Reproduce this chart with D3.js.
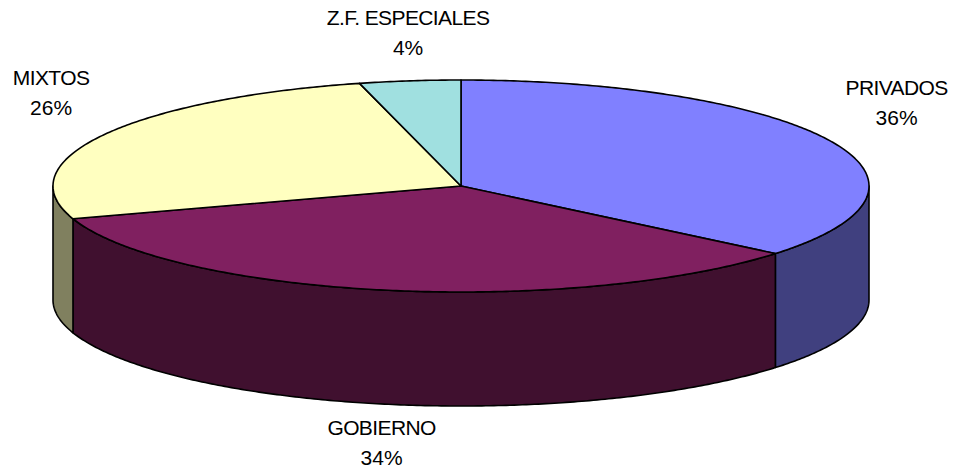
<!DOCTYPE html>
<html>
  <head>
    <meta charset="utf-8" />
    <title>Pie 3D</title>
    <script src="https://d3js.org/d3.v7.min.js"></script>
    <style>
      body { margin: 0; background: #fff; }
      text {
        font-family: 'Liberation Sans', Arial, sans-serif;
        font-size: 21px;
        fill: #000;
      }
      .name { letter-spacing: -0.6px; }
    </style>
  </head>
  <body>
    <div id="chart"></div>
    <script>
      // datos
      const categories = ['PRIVADOS', 'GOBIERNO', 'MIXTOS', 'Z.F. ESPECIALES'];
      const percents = [36, 34, 26, 4];
      const topColors = ['#8080FF', '#802060', '#FFFFC0', '#A0E0E0'];
      const sideColors = ['#40407F', '#40102F', '#80805F', '#507070'];

      const width = 956;
      const height = 472;

      // elipse del pastel
      const cx = 461, cy = 186, rx = 408, ry = 106, depth = 114;

      const svg = d3.select('#chart').append('svg')
        .attr('width', width)
        .attr('height', height);

      const pie = d3.pie().sort(null).value((d) => d.value);
      const arcs = pie(categories.map((c, i) => ({ name: c, value: percents[i], i })));

      const pt = (a, dy = 0) => [cx + rx * Math.sin(a), cy - ry * Math.cos(a) + dy];
      const sample = (a0, a1, dy = 0) => {
        const n = Math.max(2, Math.ceil(Math.abs(a1 - a0) / 0.01));
        return d3.range(n + 1).map((k) => pt(a0 + (a1 - a0) * k / n, dy));
      };
      const line = d3.line();

      // paredes laterales (solo la mitad frontal)
      const sides = svg.append('g');
      arcs.forEach((d) => {
        const lo = Math.max(d.startAngle, Math.PI / 2);
        const hi = Math.min(d.endAngle, 3 * Math.PI / 2);
        if (lo >= hi) return;
        const pts = sample(lo, hi).concat(sample(hi, lo, depth));
        sides.append('path')
          .attr('d', line(pts) + 'Z')
          .attr('fill', sideColors[d.data.i])
          .attr('stroke', '#000')
          .attr('stroke-width', 1.6)
          .attr('stroke-linejoin', 'round');
      });

      // caras superiores
      const tops = svg.append('g');
      arcs.forEach((d) => {
        const pts = [[cx, cy]].concat(sample(d.startAngle, d.endAngle));
        tops.append('path')
          .attr('d', line(pts) + 'Z')
          .attr('fill', topColors[d.data.i])
          .attr('stroke', '#000')
          .attr('stroke-width', 1.6)
          .attr('stroke-linejoin', 'round');
      });

      // etiquetas
      const labels = svg.append('g');
      arcs.forEach((d) => {
        const a = (d.startAngle + d.endAngle) / 2;
        const s = Math.sin(a), c = Math.cos(a);
        const [ax, ay] = pt(a, c < 0 ? depth : 0);
        const g = labels.append('g');
        const t1 = g.append('text').attr('class', 'name')
          .attr('text-anchor', 'middle').text(d.data.name);
        g.append('text').attr('text-anchor', 'middle')
          .attr('y', 30).text(`${d.data.value}%`);
        const w = t1.node().getComputedTextLength();
        const h = 50;
        const gap = (c < 0 ? 6 : 16) + 50 * Math.abs(s);
        const lx = ax + s * Math.abs(s) * (w / 2 + 30);
        const ly = ay - c * (h / 2 + gap);
        g.attr('transform', `translate(${lx},${ly - 9})`);
      });
    </script>
  </body>
</html>
